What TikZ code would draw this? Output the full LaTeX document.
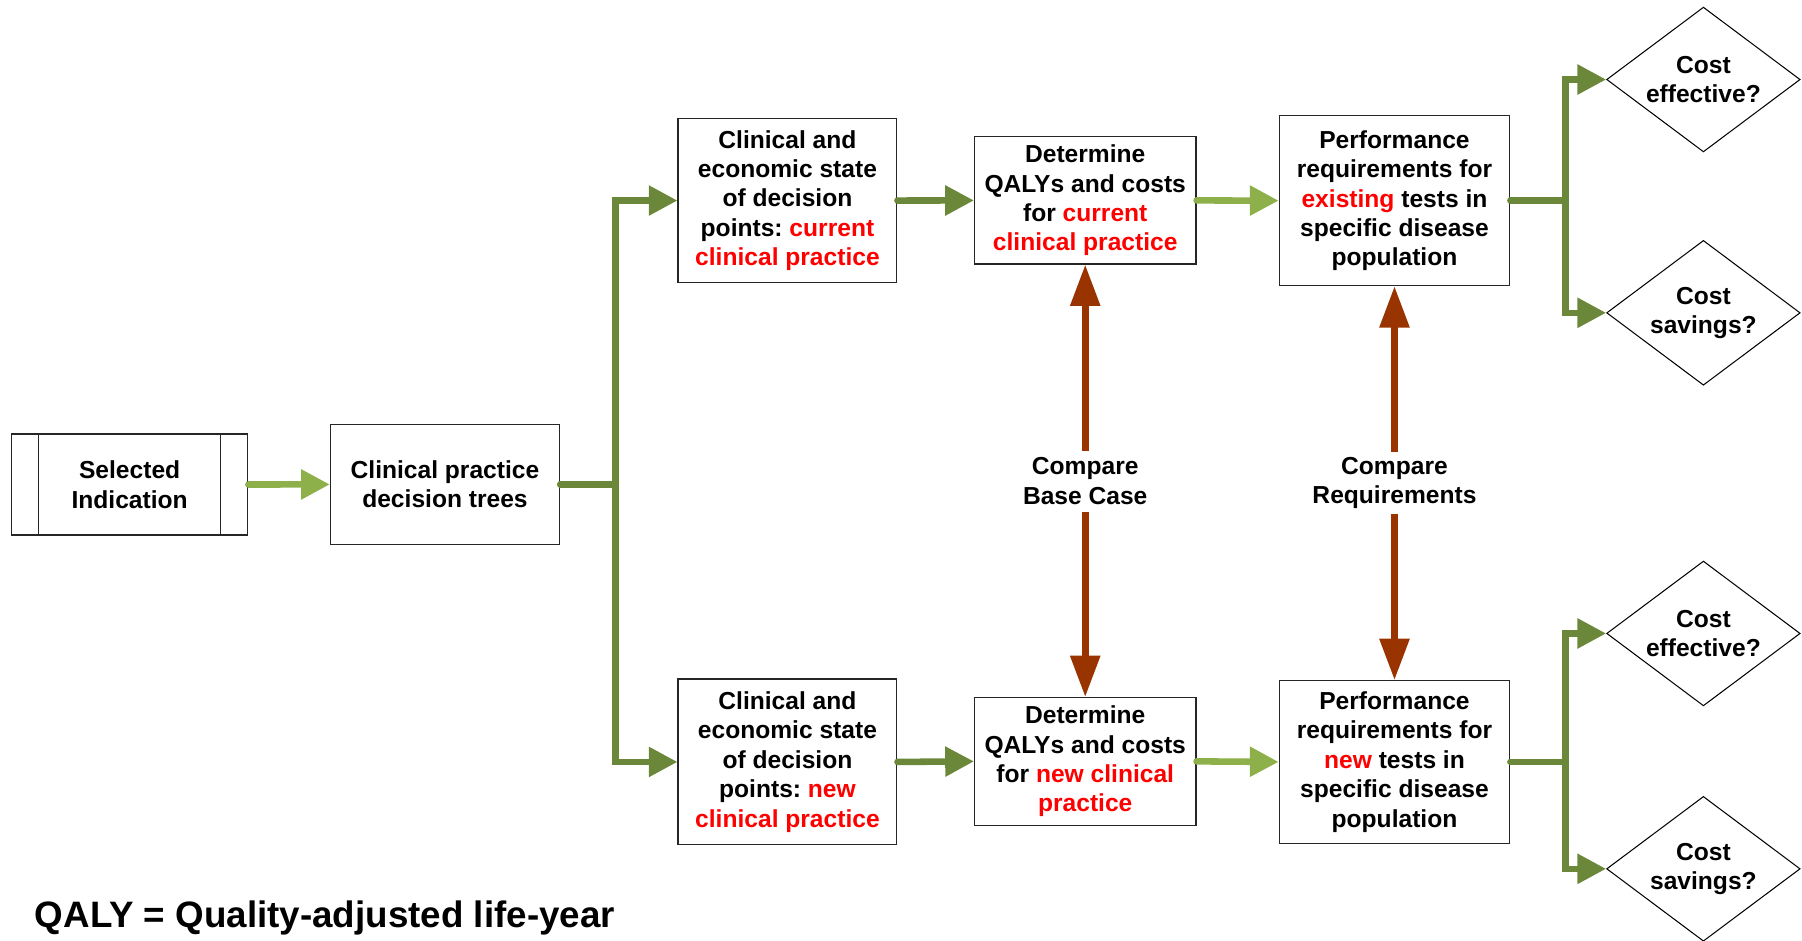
\documentclass[tikz,border=0pt]{standalone}
\usepackage{fontspec}
\setmainfont{Liberation Sans}
\usetikzlibrary{arrows.meta,shapes.geometric}
\definecolor{lgreen}{RGB}{141,176,74}
\definecolor{dgreen}{RGB}{107,136,58}
\definecolor{brn}{RGB}{153,51,0}
\definecolor{rtxt}{RGB}{255,0,0}
\newcommand{\rd}[1]{\textcolor{rtxt}{#1}}
\frenchspacing
\begin{document}
\begin{tikzpicture}[x=0.5pt,y=-0.5pt,
  every node/.style={font=\fontsize{10.7pt}{12.8pt}\selectfont\bfseries, align=center},
  box/.style={draw=black!85, line width=0.5pt, inner sep=0pt, fill=white},
  dia/.style={draw=black, line width=0.45pt, shape=diamond, aspect=1.336, inner sep=0pt, minimum width=84.2pt, minimum height=63pt},
  lab/.style={inner sep=0pt, minimum height=26.2pt},
  lgarrow/.style={draw=lgreen, line width=2.85pt, line cap=round, -{Triangle[length=12.5pt,width=12.5pt]}},
  dgarrow/.style={draw=dgreen, line width=2.85pt, line cap=round, -{Triangle[length=12.5pt,width=12.5pt]}},
  dgline/.style={draw=dgreen, line width=2.85pt, line cap=round},
  brarrow/.style={draw=brn, line width=2.9pt, -{Triangle[length=18pt,width=12.5pt]}}
]
\useasboundingbox (0,0) rectangle (1568,818);

% nodes
\node[box, minimum width=102.85pt, minimum height=43.9pt] (sel) at (112.8,421.6) {Selected\\Indication};
\draw[black!85, line width=0.5pt] ([xshift=12.15pt]sel.north west) -- ([xshift=12.15pt]sel.south west);
\draw[black!85, line width=0.5pt] ([xshift=-12.15pt]sel.north east) -- ([xshift=-12.15pt]sel.south east);
\node[box, minimum width=99.75pt, minimum height=52.2pt] (tree) at (387.2,421.5) {Clinical practice\\decision trees};

\node[box, minimum width=95.2pt, minimum height=71.5pt] (tcs) at (685.2,174.5) {Clinical and\\economic state\\of decision\\points: \rd{current}\\\rd{clinical practice}};
\node[box, minimum width=96.35pt, minimum height=55.35pt] (tq) at (944.3,174.4) {Determine\\QALYs and costs\\for \rd{current}\\\rd{clinical practice}};
\node[box, minimum width=100.35pt, minimum height=73.95pt] (tp) at (1213.4,174.6) {Performance\\requirements for\\\rd{existing} tests in\\specific disease\\population};

\node[box, minimum width=95.2pt, minimum height=72.2pt] (bcs) at (685.2,663) {Clinical and\\economic state\\of decision\\points: \rd{new}\\\rd{clinical practice}};
\node[box, minimum width=96.35pt, minimum height=55.5pt] (bq) at (944.3,662.5) {Determine\\QALYs and costs\\for \rd{new clinical}\\\rd{practice}};
\node[box, minimum width=100.35pt, minimum height=70.75pt] (bp) at (1213.4,663) {Performance\\requirements for\\\rd{new} tests in\\specific disease\\population};

\node[dia] (d1) at (1482.2,69.2) {Cost\\effective?};
\node[dia] (d2) at (1482.2,272.2) {Cost\\savings?};
\node[dia] (d3) at (1482.2,551.2) {Cost\\effective?};
\node[dia] (d4) at (1482.2,756) {Cost\\savings?};

\node[lab] (cmp1) at (944.3,418.6) {Compare\\Base Case};
\node[lab] (cmp2) at (1213.4,420.3) {Compare\\Requirements};

\node[anchor=base west, inner sep=0pt, font=\fontsize{16pt}{19pt}\selectfont\bfseries] (qaly) at (30,807) {QALY = Quality-adjusted life-year};

% coordinates
\coordinate (trunk) at (535.4,421.5);
\coordinate (br1) at (1362,174.6);
\coordinate (br2) at (1362,663);

% connectors
\draw[lgarrow] (sel.east) -- (tree.west);
\draw[dgline] (tree.east) -- (trunk);
\draw[dgarrow] (trunk) |- (tcs.west);
\draw[dgarrow] (trunk) |- (bcs.west);
\draw[dgarrow] (tcs.east) -- (tq.west);
\draw[dgarrow] (bcs.east) -- (bq.west);
\draw[lgarrow] (tq.east) -- (tp.west);
\draw[lgarrow] (bq.east) -- (bp.west);
\draw[dgline] (tp.east) -- (br1);
\draw[dgarrow] (br1) |- (d1.west);
\draw[dgarrow] (br1) |- (d2.west);
\draw[dgline] (bp.east) -- (br2);
\draw[dgarrow] (br2) |- (d3.west);
\draw[dgarrow] (br2) |- (d4.west);

\draw[brarrow] (cmp1) -- (tq.south);
\draw[brarrow] (cmp1) -- (bq.north);
\draw[brarrow] (cmp2) -- (tp.south);
\draw[brarrow] (cmp2) -- (bp.north);
\end{tikzpicture}
\end{document}
